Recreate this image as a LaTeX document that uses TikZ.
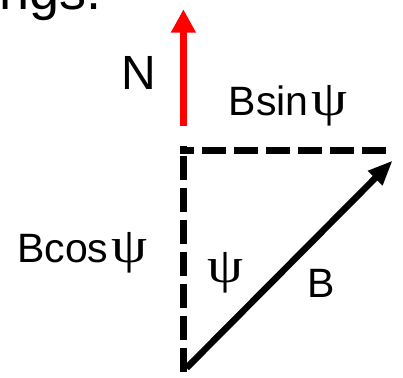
\documentclass[tikz,border=0pt]{standalone}
\usepackage{fontspec}
\setmainfont{Liberation Sans}
\newfontfamily\grkfont{Liberation Serif}
\usetikzlibrary{arrows.meta}

\newcommand{\psisym}{{\grkfont\fontsize{50}{54}\selectfont\kern3pt\scalebox{1.15}[1]{ψ}}}

\begin{document}
\begin{tikzpicture}[
  x=1pt, y=-1pt,
  lbl/.style   = {inner sep=0pt, anchor=base west, font=\fontsize{41}{46}\selectfont},
  dline/.style = {line width=7pt, dash pattern=on 24pt off 8pt},
  vec/.style   = {line width=6.5pt, -{Triangle[length=25pt, width=19pt]}},
]
\useasboundingbox (0,0) rectangle (403,377);

%% --- cut-off heading at the top ---
\node[lbl, font=\fontsize{54}{60}\selectfont] (title) at (-1,10) {ngs.};

%% --- corners of the triangle ---
\coordinate (bot)  at (183.4,372);
\coordinate (top)  at (183.4,146);
\coordinate (rgt)  at (386,150);
\coordinate (lft)  at (180,150);
\coordinate (nbase) at (183.4,126);
\coordinate (ntip)  at (183.4,9.3);
\coordinate (bstart) at (186.5,368);
\coordinate (btip)   at (392.7,160.5);

%% --- components ---
\draw[dline] (bot) -- (top);
\draw[dline] (rgt) -- (lft);

%% --- vectors ---
\draw[vec, red, line width=7pt, -{Triangle[length=23.4pt, width=23.6pt]}] (nbase) -- (ntip);
\draw[vec] (bstart) -- (btip);

%% --- labels ---
\node[lbl, font=\fontsize{48}{54}\selectfont] (lblN) at (121,89) {N};
\node[lbl] (lblBsin) at (228.5,115) {Bsin\psisym};
\node[lbl] (lblBcos) at (17,262) {Bcos\psisym};
\node[lbl] (lblPsi)  at (204,282) {\psisym};
\node[lbl] (lblB)    at (307,297) {B};
\end{tikzpicture}
\end{document}
